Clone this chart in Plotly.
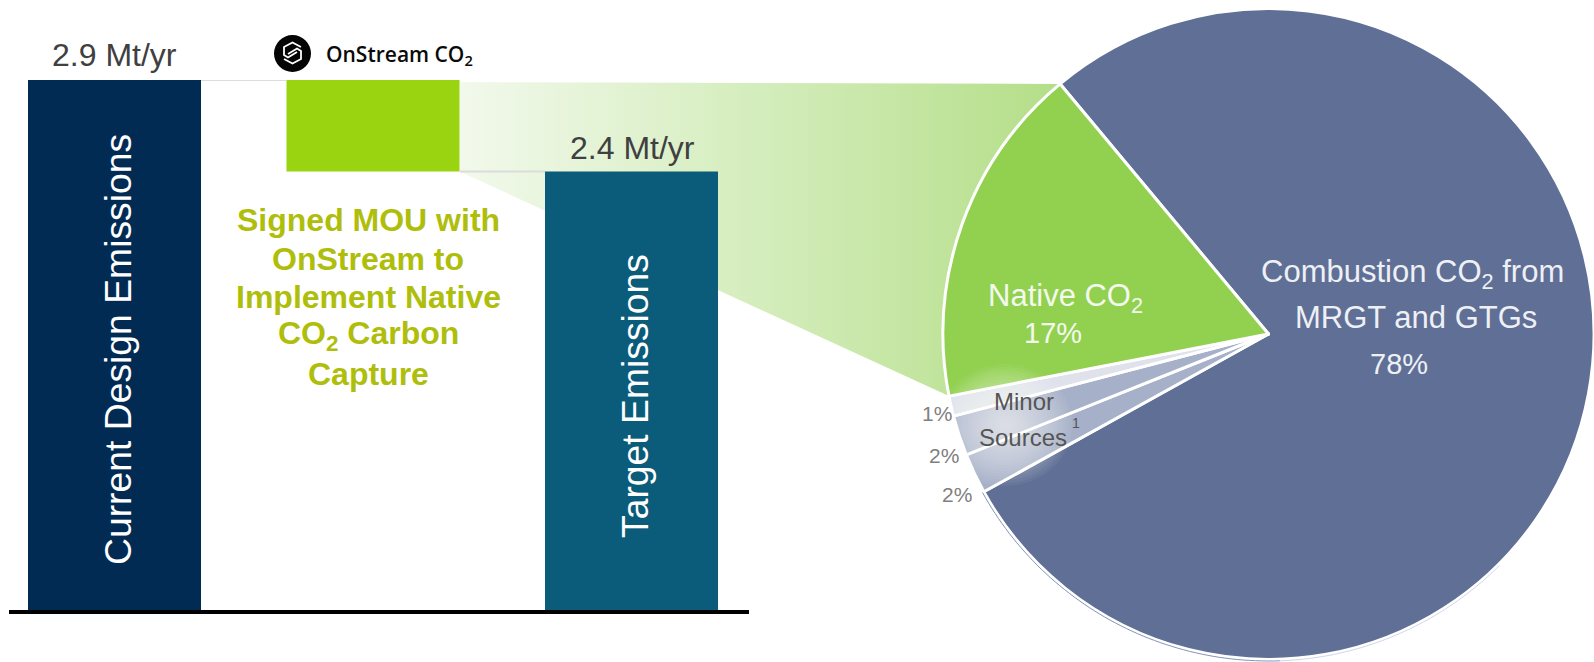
import math
import numpy as np
import plotly.graph_objects as go

W, H = 1594, 662

# Emissions bridge (Mt/yr)
current_emissions = 2.9
target_emissions = 2.4
bar_labels = ["Current Design Emissions", "Target Emissions"]
total_labels = ["2.9 Mt/yr", "2.4 Mt/yr"]
capture_lines = ["Signed MOU with", "OnStream to", "Implement Native", "CO<sub>2</sub> Carbon", "Capture"]

# Emission sources (% of total), clockwise from the combustion slice
source_names = ["Combustion", "Minor C", "Minor B", "Minor A", "Native"]
source_shares = [78, 2, 2, 1, 17]
source_colors = ["#5f6f95", "#a6b0c8", "#a6b0c8", "#dfe2eb", "#92d050"]
minor_share_labels = ["1%", "2%", "2%"]

# Page layout, in pixels from the top-left corner
BAR_LEFT, BAR_RIGHT, BASE_Y, TOP_Y = 9, 749, 610, 80
BAR_STEP, BAR_WIDTH, FIRST_BAR_X = 258.5, 173, 114.5
PIE_CX, PIE_CY, PIE_R = 1268.5, 334, 325.5
PIE_START = 320.2  # degrees clockwise from twelve o'clock


def bar_px(position):
    return FIRST_BAR_X + position * BAR_STEP


def value_py(value):
    return BASE_Y - (BASE_Y - TOP_Y) * value / current_emissions


def pie_point(clockwise_deg, radius=PIE_R):
    a = math.radians(clockwise_deg)
    return PIE_CX + radius * math.sin(a), PIE_CY - radius * math.cos(a)


# Native CO2 slice edges come from the slice shares
native_end = PIE_START
native_start = PIE_START - 360 * source_shares[-1] / sum(source_shares)
wedge_top = pie_point(native_end)
wedge_bottom = pie_point(native_start)
capture_right = bar_px(1) + BAR_WIDTH / 2

fig = go.Figure()

# Callout joining the capture bar to the Native CO2 slice
fig.add_trace(go.Scatter(
    x=[capture_right, wedge_top[0], wedge_bottom[0], capture_right],
    y=[value_py(current_emissions) + 2, wedge_top[1], wedge_bottom[1], value_py(target_emissions)],
    mode="none", fill="toself", hoverinfo="skip", showlegend=False,
    fillgradient=dict(type="horizontal", colorscale=[[0, "#f2f9ec"], [0.5, "#d4edbc"], [1, "#b4de88"]]),
    xaxis="x", yaxis="y",
))

# Waterfall bars
fig.add_trace(go.Bar(
    x=[0, 2], y=[current_emissions, target_emissions],
    width=BAR_WIDTH / BAR_STEP, marker=dict(color=["#012b53", "#0b5b7a"], line_width=0),
    hoverinfo="skip", showlegend=False, xaxis="x2", yaxis="y2",
))
fig.add_trace(go.Bar(
    x=[1], y=[current_emissions - target_emissions], base=[target_emissions],
    width=BAR_WIDTH / BAR_STEP, marker=dict(color="#9ad411", line_width=0),
    hoverinfo="skip", showlegend=False, xaxis="x2", yaxis="y2",
))

# Connectors between the bars
half = BAR_WIDTH / BAR_STEP / 2
for x0, x1, level in [(0 + half, 1 - half, current_emissions), (1 + half, 2 - half, target_emissions)]:
    fig.add_trace(go.Scatter(
        x=[x0, x1], y=[level, level], mode="lines", line=dict(color="#dcdcdc", width=2),
        hoverinfo="skip", showlegend=False, xaxis="x2", yaxis="y2",
    ))

# Emission sources pie
fig.add_trace(go.Pie(
    labels=source_names, values=source_shares, sort=False, direction="clockwise",
    rotation=PIE_START, textinfo="none", hoverinfo="skip", showlegend=False,
    marker=dict(colors=source_colors, line=dict(color="white", width=3)),
    domain=dict(x=[(PIE_CX - PIE_R) / W, 1], y=[1 - (PIE_CY + PIE_R) / H, 1 - (PIE_CY - PIE_R) / H]),
))

shapes = []

# Soft highlight behind the minor sources caption
for r in np.arange(4, 64, 3):
    shapes.append(dict(type="circle", xref="x", yref="y", x0=1005 - r * 1.1, x1=1005 + r * 1.1,
                       y0=425 - r, y1=425 + r, fillcolor="rgba(255,255,255,0.05)",
                       line_width=0, layer="above"))


# Thin rim around the lower part of the pie
def rim_path(a0, a1, radius):
    pts = [pie_point(a, radius) for a in np.linspace(a0, a1, 60)]
    return "M" + " L".join(f"{x:.1f},{y:.1f}" for x, y in pts)


shapes.append(dict(type="path", xref="x", yref="y", path=rim_path(241, 178, PIE_R + 1.5),
                   line=dict(color="#8493b8", width=1), layer="above"))
shapes.append(dict(type="path", xref="x", yref="y", path=rim_path(178, 135, PIE_R + 1.5),
                   line=dict(color="#ccd6ea", width=1), layer="above"))

# OnStream badge
shapes.append(dict(type="circle", xref="x", yref="y", x0=274, x1=311, y0=35, y1=72,
                   fillcolor="#050505", line_width=0, layer="above"))
shapes.append(dict(type="path", xref="x", yref="y",
                   path="M301,47 L292.5,42.5 L284,47 L284,55 L288,57.5 L297,52 "
                        "M284,59 L292.5,63.5 L301,59 L301,51 L297,48.5 L288,54",
                   line=dict(color="white", width=1.8), layer="above"))

annotations = []


def label(text, x, y, size, color, bold=False, angle=0, family="Liberation Sans", weight=None, xanchor="center"):
    font = dict(family=family, size=size, color=color)
    if bold:
        font["weight"] = 700
    if weight:
        font["weight"] = weight
    annotations.append(dict(text=text, x=x, y=y, xref="x", yref="y", showarrow=False, font=font,
                            textangle=angle, xanchor=xanchor, yanchor="middle", borderpad=0))


label(total_labels[0], 114, 55, 32, "#404040")
label(total_labels[1], 632, 148, 32, "#404040")
label(bar_labels[0], 118, 350, 37.3, "white", angle=-90)
label(bar_labels[1], 635, 396, 37.3, "white", angle=-90)
for i, line in enumerate(capture_lines):
    label(line, 368, 220 + i * 38.5, 32, "#aebe0b", bold=True)
label("OnStream CO<sub>2</sub>", 325, 55, 21, "#0a0a0a", family="Open Sans", weight=600, xanchor="left")

label("Combustion CO<sub>2</sub> from", 1412, 274, 31, "#eef0f5")
label("MRGT and GTGs", 1416, 317, 31, "#eef0f5")
label("78%", 1399, 364, 29, "#eef0f5")
label("Native CO<sub>2</sub>", 1065, 298, 31, "#f4f9ee")
label("17%", 1053, 333, 29, "#f4f9ee")
label("Minor", 1024, 401, 24, "#555555")
label("Sources", 1023, 437, 24, "#555555")
label("1", 1076, 423, 14, "#555555")
label(minor_share_labels[0], 937, 413, 21, "#808080")
label(minor_share_labels[1], 944, 455, 21, "#808080")
label(minor_share_labels[2], 957, 494, 21, "#808080")

fig.update_layout(
    width=W, height=H, margin=dict(l=0, r=0, t=0, b=0), autosize=False,
    paper_bgcolor="white", plot_bgcolor="rgba(0,0,0,0)", showlegend=False, barmode="overlay",
    shapes=shapes, annotations=annotations,
    xaxis=dict(domain=[0, 1], range=[0, W], visible=False, fixedrange=True),
    yaxis=dict(domain=[0, 1], range=[H, 0], visible=False, fixedrange=True),
    xaxis2=dict(domain=[BAR_LEFT / W, BAR_RIGHT / W],
                range=[(BAR_LEFT - FIRST_BAR_X) / BAR_STEP, (BAR_RIGHT - FIRST_BAR_X) / BAR_STEP],
                showgrid=False, zeroline=False, showticklabels=False, ticks="",
                showline=True, linecolor="black", linewidth=4, anchor="y2", fixedrange=True),
    yaxis2=dict(domain=[1 - BASE_Y / H, 1 - TOP_Y / H], range=[0, current_emissions], visible=False,
                anchor="x2", fixedrange=True),
)

fig.write_html("out.html", config=dict(displayModeBar=False))
